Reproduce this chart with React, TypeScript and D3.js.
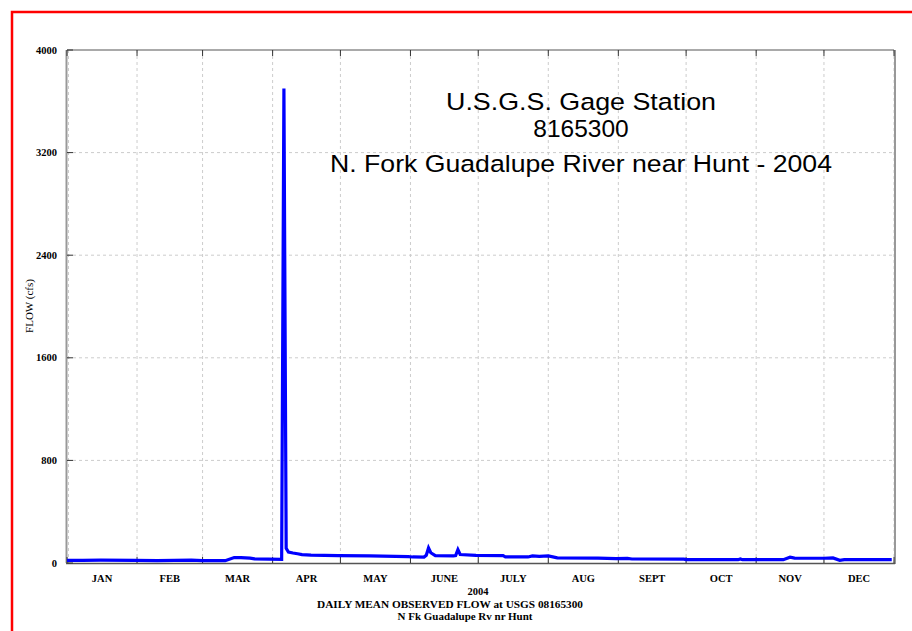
import React from "react";
import * as d3 from "d3";

// ---- data ----
const flowDates: string[] = [
  "2004-01-01", "2004-01-08", "2004-01-16", "2004-01-31", "2004-02-10", "2004-02-25",
  "2004-03-01", "2004-03-11", "2004-03-15", "2004-03-18", "2004-03-22", "2004-03-24",
  "2004-04-05", "2004-04-06", "2004-04-07", "2004-04-08", "2004-04-10", "2004-04-12",
  "2004-04-14", "2004-04-18", "2004-04-30", "2004-05-14", "2004-05-31", "2004-06-02",
  "2004-06-07", "2004-06-08", "2004-06-09", "2004-06-10", "2004-06-12", "2004-06-20",
  "2004-06-21", "2004-06-22", "2004-06-23", "2004-06-30", "2004-07-12", "2004-07-13",
  "2004-07-23", "2004-07-25", "2004-07-28", "2004-08-01", "2004-08-05", "2004-08-23",
  "2004-08-31", "2004-09-05", "2004-09-07", "2004-09-30", "2004-10-01", "2004-10-24",
  "2004-10-25", "2004-10-26", "2004-11-13", "2004-11-16", "2004-11-18", "2004-12-01",
  "2004-12-05", "2004-12-08", "2004-12-10", "2004-12-31",
];
const flowValues: number[] = [
  21, 21, 23, 21, 18, 23,
  19, 18, 43, 42, 38, 32,
  28, 3700, 115, 85, 78, 72,
  65, 62, 58, 55, 50, 47,
  46, 60, 117, 80, 57, 56,
  58, 104, 66, 60, 57, 48,
  47, 55, 52, 55, 40, 38,
  34, 36, 31, 30, 26, 26,
  32, 26, 26, 45, 38, 37,
  40, 21, 26, 26,
];
const monthLabels: string[] = ["JAN", "FEB", "MAR", "APR", "MAY", "JUNE", "JULY", "AUG", "SEPT", "OCT", "NOV", "DEC"];
const yTicks: number[] = [0, 800, 1600, 2400, 3200, 4000];
const yGrid: number[] = [800, 1600, 2400, 3200];
const titleLines: string[] = ["U.S.G.S. Gage Station", "8165300", "N. Fork Guadalupe River near Hunt - 2004"];
const xAxisYear = "2004";
const captionLines: string[] = ["DAILY MEAN OBSERVED FLOW at USGS 08165300", "N Fk Guadalupe Rv nr Hunt"];
const yAxisLabel = "FLOW (cfs)";

// ---- layout ----
const W = 912;
const H = 631;
const L = 67;
const R = 894;
const T = 50;
const B = 563;

export default function App() {
  const parse = d3.utcParse("%Y-%m-%d");
  const start = new Date(Date.UTC(2004, 0, 1));
  const end = new Date(Date.UTC(2005, 0, 1));
  const x = d3.scaleUtc().domain([start, end]).range([L, R]);
  const y = d3.scaleLinear().domain([0, 4000]).range([B, T]);

  const pts = flowDates.map((d, i) => ({ date: parse(d) as Date, v: flowValues[i] }));
  const line = d3
    .line<{ date: Date; v: number }>()
    .x((d) => x(d.date))
    .y((d) => y(d.v));

  const monthStarts = d3.utcMonth.range(start, d3.utcMonth.offset(end, 1));
  const serif = "'Liberation Serif', 'Times New Roman', serif";
  const sans = "'Liberation Sans', Arial, sans-serif";

  return (
    <svg
      width={W}
      height={H}
      style={{ position: "absolute", left: 0, top: 0, background: "#fff" }}
    >
      <rect x={0} y={0} width={W} height={H} fill="#fff" />
      {/* red frame */}
      <rect x={12} y={12} width={W + 20} height={H + 20} fill="none" stroke="#ff0000" strokeWidth={2.5} />

      {/* grid */}
      {monthStarts.map((m, i) => (
        <line
          key={"vg" + i}
          x1={x(m) + (i === 0 ? 1.5 : 0)}
          x2={x(m) + (i === 0 ? 1.5 : 0)}
          y1={T}
          y2={B}
          stroke="#cccccc"
          strokeWidth={1}
          strokeDasharray="3,3"
        />
      ))}
      {yGrid.map((v) => (
        <line key={"hg" + v} x1={L} x2={R} y1={y(v)} y2={y(v)} stroke="#cccccc" strokeWidth={1} strokeDasharray="3,3" />
      ))}

      {/* frame */}
      <line x1={L} x2={R} y1={T} y2={T} stroke="#555" strokeWidth={1} />
      <line x1={L - 0.5} x2={L - 0.5} y1={T} y2={B} stroke="#999" strokeWidth={2} />
      <line x1={R + 1} x2={R + 1} y1={T} y2={B + 1} stroke="#999" strokeWidth={2} />
      <line x1={L - 1} x2={R + 1} y1={B + 0.5} y2={B + 0.5} stroke="#555" strokeWidth={1.5} />

      {/* month ticks */}
      {monthStarts.map((m, i) => (
        <g key={"mt" + i}>
          <line x1={x(m)} x2={x(m)} y1={T} y2={T + 6} stroke="#333" strokeWidth={1} />
          <line x1={x(m)} x2={x(m)} y1={B} y2={B - 6} stroke="#333" strokeWidth={1} />
        </g>
      ))}
      {/* y ticks */}
      {yTicks.map((v) => (
        <g key={"yt" + v}>
          <line x1={L} x2={L + 6} y1={y(v)} y2={y(v)} stroke="#333" strokeWidth={1} />
          <text
            x={57}
            y={y(v)}
            dy="0.35em"
            textAnchor="end"
            fontFamily={serif}
            fontWeight="bold"
            fontSize={10.5}
            fill="#000"
          >
            {v}
          </text>
        </g>
      ))}

      {/* month labels */}
      {monthLabels.map((lab, i) => {
        const a = monthStarts[i];
        const b = monthStarts[i + 1];
        const cx = (x(a) + x(b)) / 2;
        return (
          <text
            key={"ml" + i}
            x={cx}
            y={582}
            textAnchor="middle"
            fontFamily={serif}
            fontWeight="bold"
            fontSize={10.5}
            fill="#000"
          >
            {lab}
          </text>
        );
      })}

      {/* data line */}
      <path d={line(pts) || ""} fill="none" stroke="#0000ff" strokeWidth={3.2} strokeLinejoin="miter" />

      {/* captions */}
      <text x={478} y={595} textAnchor="middle" fontFamily={serif} fontWeight="bold" fontSize={10.5} fill="#000">
        {xAxisYear}
      </text>
      <text
        x={450}
        y={608}
        textAnchor="middle"
        fontFamily={serif}
        fontWeight="bold"
        fontSize={10.5}
        textLength={266}
        lengthAdjust="spacingAndGlyphs"
        fill="#000"
      >
        {captionLines[0]}
      </text>
      <text
        x={465}
        y={620}
        textAnchor="middle"
        fontFamily={serif}
        fontWeight="bold"
        fontSize={10.5}
        textLength={135}
        lengthAdjust="spacingAndGlyphs"
        fill="#000"
      >
        {captionLines[1]}
      </text>

      {/* y axis label */}
      <text
        transform="translate(33,306) rotate(-90)"
        textAnchor="middle"
        fontFamily={serif}
        fontSize={11}
        fill="#000"
      >
        {yAxisLabel}
      </text>

      {/* title */}
      {titleLines.map((t, i) => (
        <text
          key={"tl" + i}
          x={581}
          y={[110, 137, 172][i]}
          textAnchor="middle"
          fontFamily={sans}
          fontSize={24.5}
          textLength={i === 1 ? undefined : [270, 0, 502][i]}
          lengthAdjust="spacingAndGlyphs"
          fill="#000"
        >
          {t}
        </text>
      ))}
    </svg>
  );
}
